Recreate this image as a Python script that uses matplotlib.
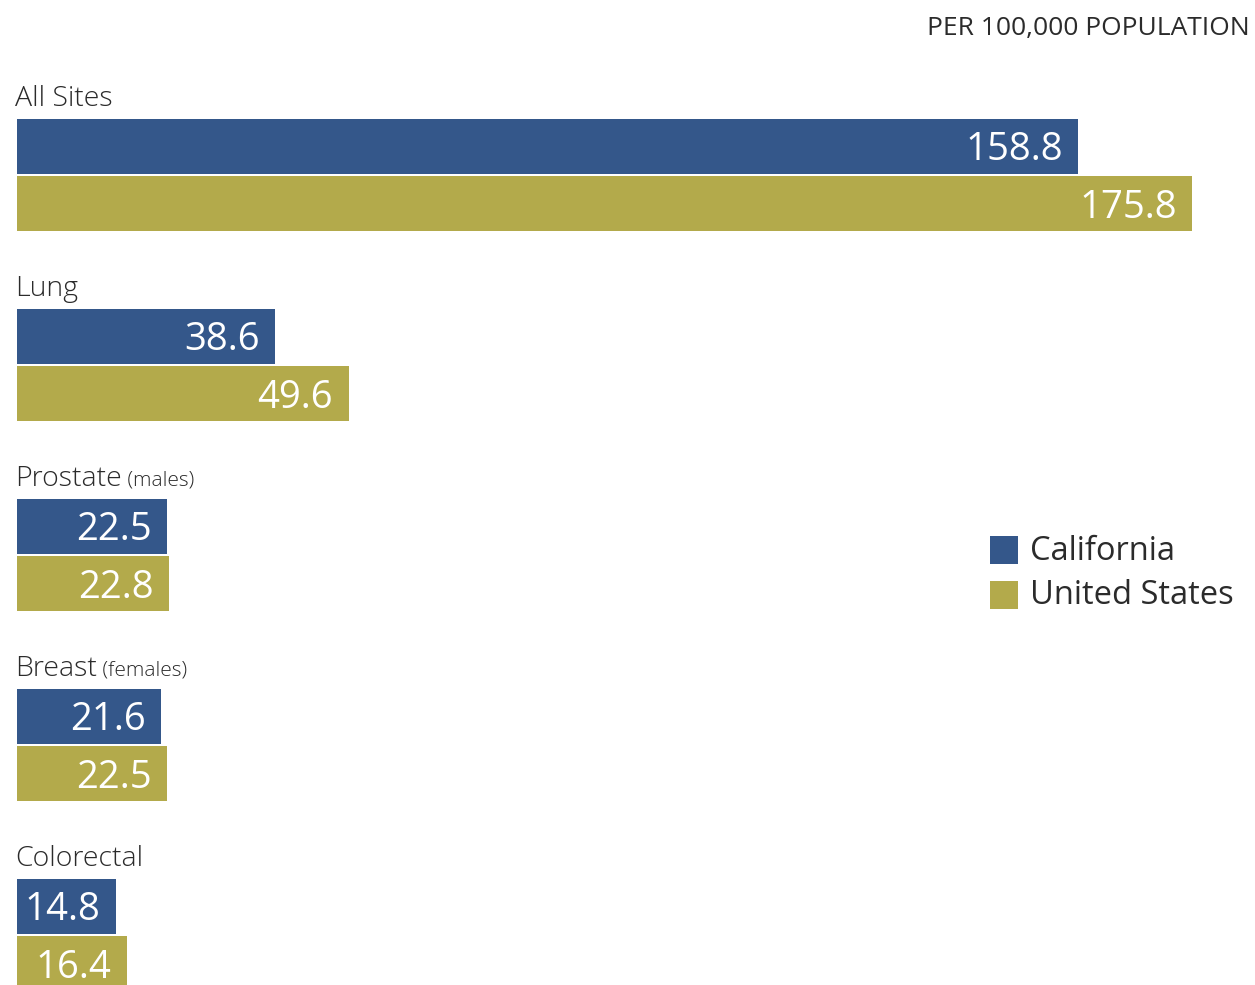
import matplotlib
matplotlib.use('Agg')
import matplotlib.pyplot as plt
from matplotlib.patches import Rectangle

plt.rcParams['font.family'] = ['Open Sans', 'DejaVu Sans']

# Cancer death rates, per 100,000 population
sites = ['All Sites', 'Lung', 'Prostate', 'Breast', 'Colorectal']
site_notes = ['', '', '(males)', '(females)', '']
california = [158.8, 38.6, 22.5, 21.6, 14.8]
united_states = [175.8, 49.6, 22.8, 22.5, 16.4]
series_names = ['California', 'United States']

BLUE = '#34578a'
GOLD = '#b3aa4b'
TEXT = '#2b2b2b'

W, H = 1255, 985
fig = plt.figure(figsize=(W / 100, H / 100), dpi=100)

# axes: x in rate units starting at the bars' left edge, y in pixels from the top
left_px = 17
px_per_unit = 6.684
ax = fig.add_axes([left_px / W, 0, (W - left_px) / W, 1])
ax.set_xlim(0, (W - left_px) / px_per_unit)
ax.set_ylim(H, 0)
ax.axis('off')

group_top = 119
group_step = 190
bar_h = 55
bar_gap = 2

tops_ca = [group_top + i * group_step for i in range(len(sites))]
tops_us = [t + bar_h + bar_gap for t in tops_ca]

ax.barh([t + bar_h / 2 for t in tops_ca], california, height=bar_h,
        left=0, color=BLUE, edgecolor='none')
ax.barh([t + bar_h / 2 for t in tops_us], united_states, height=bar_h,
        left=0, color=GOLD, edgecolor='none')

for vals, tops in ((california, tops_ca), (united_states, tops_us)):
    for v, t in zip(vals, tops):
        ax.annotate(f'{v:.1f}', xy=(v, t + bar_h / 2 + 4), xytext=(-11, 0),
                    textcoords='offset points', ha='right', va='center',
                    color='white', fontsize=27.5)

# category labels above each pair of bars
labels = []
for name, top in zip(sites, tops_ca):
    t = ax.annotate(name, xy=(0, top - 13), xytext=(-1.5, 0),
                    textcoords='offset points', ha='left', va='baseline',
                    fontsize=20.5, fontweight='light', color=TEXT)
    labels.append(t)

fig.canvas.draw()
renderer = fig.canvas.get_renderer()
for t, note, top in zip(labels, site_notes, tops_ca):
    if not note:
        continue
    x1 = t.get_window_extent(renderer).x1
    xd = ax.transData.inverted().transform((x1, 0))[0]
    ax.text(xd, top - 13, ' ' + note, ha='left', va='baseline',
            fontsize=15, fontweight='light', color=TEXT)

title = fig.text(1250 / W, 1 - 28 / H, 'PER 100,000 POPULATION', ha='right',
                 va='center', fontsize=19, color=TEXT)

# legend: colour squares with series names
sq = 28
for i, (name, color) in enumerate(zip(series_names, [BLUE, GOLD])):
    top = 536 + i * 45
    fig.patches.append(Rectangle((990 / W, 1 - (top + sq) / H), sq / W, sq / H,
                                 transform=fig.transFigure, facecolor=color,
                                 edgecolor='none'))
    fig.text(1030 / W, 1 - (top + sq / 2 + 1) / H, name, ha='left',
             va='center', fontsize=23.5, color=TEXT)

fig.savefig('out.png', dpi=100)
